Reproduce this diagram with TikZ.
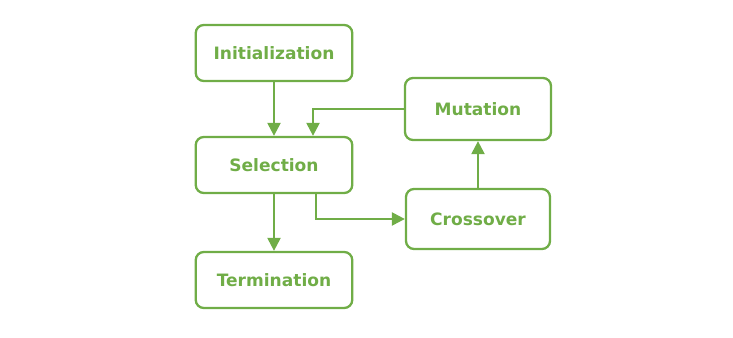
\documentclass[tikz,border=0pt]{standalone}
\usepackage{fontspec}
\setmainfont{DejaVu Sans}
\usepackage{xcolor}
\usetikzlibrary{arrows.meta, positioning, calc}
\definecolor{leaf}{HTML}{70AD47}
\tikzset{
    box/.style={rectangle, draw=leaf, line width=1.3pt, rounded corners=0.16cm, minimum width=3.13cm, minimum height=1.12cm, text centered, text=leaf, font=\fontsize{9.7}{11}\selectfont\bfseries},
    arrow/.style={draw=leaf, line width=1.3pt, -{Triangle[length=2.6mm, width=2.6mm]}}
}
\begin{document}
\begin{tikzpicture}
    \useasboundingbox (0,0) rectangle (14.66,-6.76);

    % Main column
    \node (init) [box] at (5.48,-1.06) {Initialization};
    \node (sel) [box] at (5.48,-3.30) {Selection};
    \node (term) [box] at (5.48,-5.60) {Termination};

    % Loop on the right
    \node (mut) [box, minimum width=2.92cm, minimum height=1.24cm] at (9.56,-2.18) {Mutation};
    \node (cross) [box, minimum width=2.88cm, minimum height=1.2cm] at (9.56,-4.38) {Crossover};

    % Arrows
    \draw [arrow] (init) -- (sel);
    \draw [arrow] (sel) -- (term);
    \draw [arrow] ([xshift=0.84cm]sel.south) |- (cross.west);
    \draw [arrow] (cross) -- (mut);
    \draw [arrow] (mut.west) -| ([xshift=0.78cm]sel.north);
\end{tikzpicture}
\end{document}
